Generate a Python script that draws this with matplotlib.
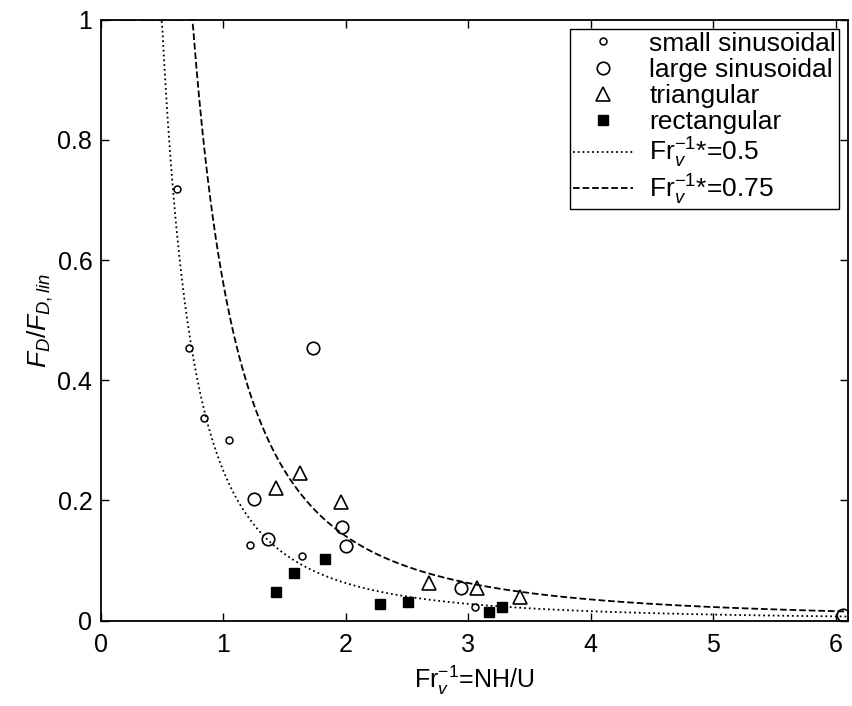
import numpy as np
import matplotlib
matplotlib.use("Agg")
import matplotlib.pyplot as plt

plt.rcParams['font.family'] = ['Liberation Sans', 'DejaVu Sans']
plt.rcParams['mathtext.fontset'] = 'custom'
plt.rcParams['mathtext.rm'] = 'Liberation Sans'
plt.rcParams['mathtext.it'] = 'Liberation Sans:italic'

# Measured drag ratio vs inverse vertical Froude number
small_x = [0.62, 0.72, 0.84, 1.05, 1.22, 1.64, 3.06]
small_y = [0.719, 0.454, 0.337, 0.301, 0.125, 0.108, 0.023]

large_x = [1.25, 1.37, 1.73, 1.97, 2.00, 2.94, 6.06]
large_y = [0.203, 0.135, 0.453, 0.156, 0.124, 0.054, 0.010]

tri_x = [1.43, 1.63, 1.96, 2.68, 3.07, 3.42]
tri_y = [0.220, 0.245, 0.198, 0.063, 0.054, 0.040]

rect_x = [1.43, 1.58, 1.83, 2.28, 2.51, 3.17, 3.28]
rect_y = [0.047, 0.080, 0.102, 0.027, 0.031, 0.015, 0.023]

# Critical inverse Froude numbers for the saturation curves
fr_crit = [0.5, 0.75]
curve_styles = [':', '--']
curve_labels = [r'Fr$_v^{-1}$*=0.5', r'Fr$_v^{-1}$*=0.75']

fig = plt.figure(figsize=(8.53, 7.06), dpi=100)
ax = fig.add_axes([0.118, 0.121, 0.876, 0.851])

ax.plot(small_x, small_y, 'o', ms=5, mfc='white', mec='black', mew=1.1,
        ls='none', label='small sinusoidal')
ax.plot(large_x, large_y, 'o', ms=9, mfc='none', mec='black', mew=1.2,
        ls='none', label='large sinusoidal')
ax.plot(tri_x, tri_y, '^', ms=9.5, mfc='none', mec='black', mew=1.2,
        ls='none', label='triangular')
ax.plot(rect_x, rect_y, 's', ms=6.5, mfc='black', mec='black',
        ls='none', label='rectangular')

xs = np.linspace(0.0, 6.1, 800)
for fc, st, lab in zip(fr_crit, curve_styles, curve_labels):
    ys = np.minimum(1.0, (fc / np.maximum(xs, 1e-9)) ** 2)
    ax.plot(xs, ys, st, color='black', lw=1.3, label=lab)

ax.set_xlim(0, 6.1)
ax.set_ylim(0, 1)
ax.set_xticks([0, 1, 2, 3, 4, 5, 6])
ax.set_yticks([0, 0.2, 0.4, 0.6, 0.8, 1])
ax.set_yticklabels(['0', '0.2', '0.4', '0.6', '0.8', '1'])
ax.tick_params(direction='in', top=True, right=True, labelsize=18,
               length=6, width=1)
ax.tick_params(axis='x', pad=9)
ax.tick_params(axis='y', pad=6)
for s in ax.spines.values():
    s.set_linewidth(1.3)

ax.set_xlabel(r'Fr$_v^{-1}$=NH/U', fontsize=18, labelpad=5)
ax.set_ylabel(r'$F_D/F_{D,lin}$', fontsize=19, labelpad=2)

leg = ax.legend(loc='upper right', fontsize=19, frameon=True, fancybox=False,
                edgecolor='black', framealpha=1, borderpad=0.1,
                labelspacing=0.08, handlelength=2.3, handletextpad=0.6,
                borderaxespad=0.35)
leg.get_frame().set_linewidth(1.0)

fig.savefig('out.png', dpi=100)
